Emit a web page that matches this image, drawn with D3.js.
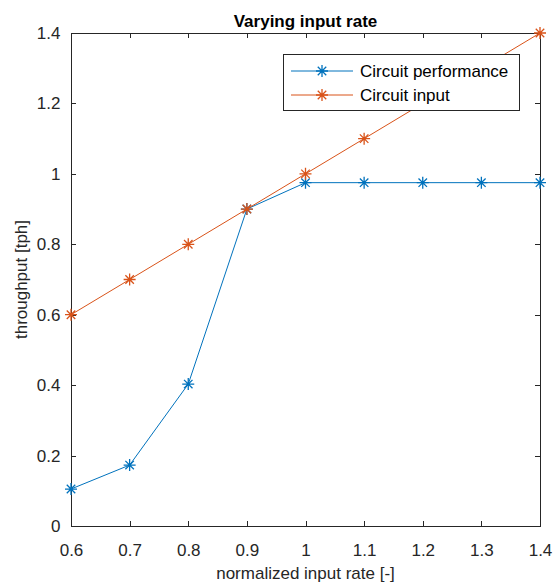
<!DOCTYPE html>
<html>
<head>
<meta charset="utf-8">
<script src="https://cdn.jsdelivr.net/npm/d3@7"></script>
<style>
  html, body { margin: 0; padding: 0; background: #fff; }
  svg { display: block; font-family: "Liberation Sans", Arial, Helvetica, sans-serif; }
</style>
</head>
<body>
<svg id="chart" width="553" height="585"></svg>
<script>
// Normalized input rate (x) and throughput values (y)
const inputRate = [0.6, 0.7, 0.8, 0.9, 1.0, 1.1, 1.2, 1.3, 1.4];
const circuitPerformance = [0.105, 0.173, 0.403, 0.9, 0.975, 0.975, 0.975, 0.975, 0.975];
const circuitInput = [0.6, 0.7, 0.8, 0.9, 1.0, 1.1, 1.2, 1.3, 1.4];
const xTicks = [0.6, 0.7, 0.8, 0.9, 1.0, 1.1, 1.2, 1.3, 1.4];
const yTicks = [0, 0.2, 0.4, 0.6, 0.8, 1.0, 1.2, 1.4];
const seriesNames = ["Circuit performance", "Circuit input"];
const seriesColors = ["#0072BD", "#D95319"];

const svg = d3.select("#chart");
const margin = { left: 71, right: 13, top: 33, bottom: 59 };
const W = 553, H = 585;
const x0 = margin.left, x1 = W - margin.right;
const y0 = H - margin.bottom, y1 = margin.top;

const x = d3.scaleLinear().domain([0.6, 1.4]).range([x0, x1]);
const y = d3.scaleLinear().domain([0, 1.4]).range([y0, y1]);

const axisColor = "#262626";
const fontSize = "17px";
const fmt = d => d3.format("")(+d.toFixed(1));

// Tick labels
const xAxis = d3.axisBottom(x).tickValues(xTicks).tickSize(0).tickPadding(17.5).tickFormat(fmt);
const yAxis = d3.axisLeft(y).tickValues(yTicks).tickSize(0).tickPadding(10.5).tickFormat(fmt);

const gx = svg.append("g").attr("transform", `translate(0,${y0})`).call(xAxis);
const gy = svg.append("g").attr("transform", `translate(${x0},0)`).call(yAxis);
[gx, gy].forEach(g => {
  g.select(".domain").remove();
  g.selectAll("text").attr("fill", axisColor).style("font-size", fontSize)
    .style("font-family", "'Liberation Sans', Arial, sans-serif");
});

// Inward ticks on all four sides
const tickLen = 5;
const ticks = svg.append("g").attr("stroke", axisColor).attr("stroke-width", 1);
xTicks.forEach(v => {
  const px = Math.round(x(v)) + 0.5;
  ticks.append("line").attr("x1", px).attr("x2", px).attr("y1", y0).attr("y2", y0 - tickLen);
  ticks.append("line").attr("x1", px).attr("x2", px).attr("y1", y1).attr("y2", y1 + tickLen);
});
yTicks.forEach(v => {
  const py = Math.round(y(v)) + 0.5;
  ticks.append("line").attr("x1", x0).attr("x2", x0 + tickLen).attr("y1", py).attr("y2", py);
  ticks.append("line").attr("x1", x1).attr("x2", x1 - tickLen).attr("y1", py).attr("y2", py);
});

// Axes box
svg.append("rect")
  .attr("x", x0 + 0.5).attr("y", y1 + 0.5)
  .attr("width", x1 - x0).attr("height", y0 - y1)
  .attr("fill", "none").attr("stroke", axisColor).attr("stroke-width", 1);

// Asterisk marker: plus and cross overlaid
function asterisk(g, cx, cy, r, color) {
  const d = r * Math.SQRT1_2;
  const p = `M${cx - r},${cy}L${cx + r},${cy}M${cx},${cy - r}L${cx},${cy + r}` +
            `M${cx - d},${cy - d}L${cx + d},${cy + d}M${cx - d},${cy + d}L${cx + d},${cy - d}`;
  g.append("path").attr("d", p).attr("stroke", color).attr("stroke-width", 1.3).attr("fill", "none");
}

const line = d3.line().x((d, i) => x(inputRate[i])).y(d => y(d));
const series = [circuitPerformance, circuitInput];
series.forEach((vals, k) => {
  const g = svg.append("g");
  g.append("path").attr("d", line(vals)).attr("fill", "none")
    .attr("stroke", seriesColors[k]).attr("stroke-width", 1);
  vals.forEach((v, i) => asterisk(g, x(inputRate[i]), y(v), 6, seriesColors[k]));
});

// Legend
const lg = svg.append("g");
const lx = 283.5, ly = 54.5, lw = 236, lh = 56;
lg.append("rect").attr("x", lx).attr("y", ly).attr("width", lw).attr("height", lh)
  .attr("fill", "#fff").attr("stroke", axisColor).attr("stroke-width", 1);
seriesNames.forEach((name, k) => {
  const ry = 71 + k * 24;
  lg.append("line").attr("x1", 291).attr("x2", 353).attr("y1", ry).attr("y2", ry)
    .attr("stroke", seriesColors[k]).attr("stroke-width", 1);
  asterisk(lg, 322, ry, 6, seriesColors[k]);
  lg.append("text").attr("x", 360).attr("y", ry + 6.2)
    .attr("fill", "#000").style("font-size", fontSize).text(name);
});

// Title and axis labels
svg.append("text").attr("x", (x0 + x1) / 2).attr("y", 26.5).attr("text-anchor", "middle")
  .attr("fill", "#000").style("font-size", fontSize).style("font-weight", "bold").text("Varying input rate");
svg.append("text").attr("x", (x0 + x1) / 2).attr("y", 579).attr("text-anchor", "middle")
  .attr("fill", axisColor).style("font-size", fontSize).text("normalized input rate [-]");
svg.append("text").attr("transform", `translate(27,${(y0 + y1) / 2}) rotate(-90)`)
  .attr("text-anchor", "middle").attr("fill", axisColor).style("font-size", fontSize).text("throughput [tph]");
</script>
</body>
</html>
